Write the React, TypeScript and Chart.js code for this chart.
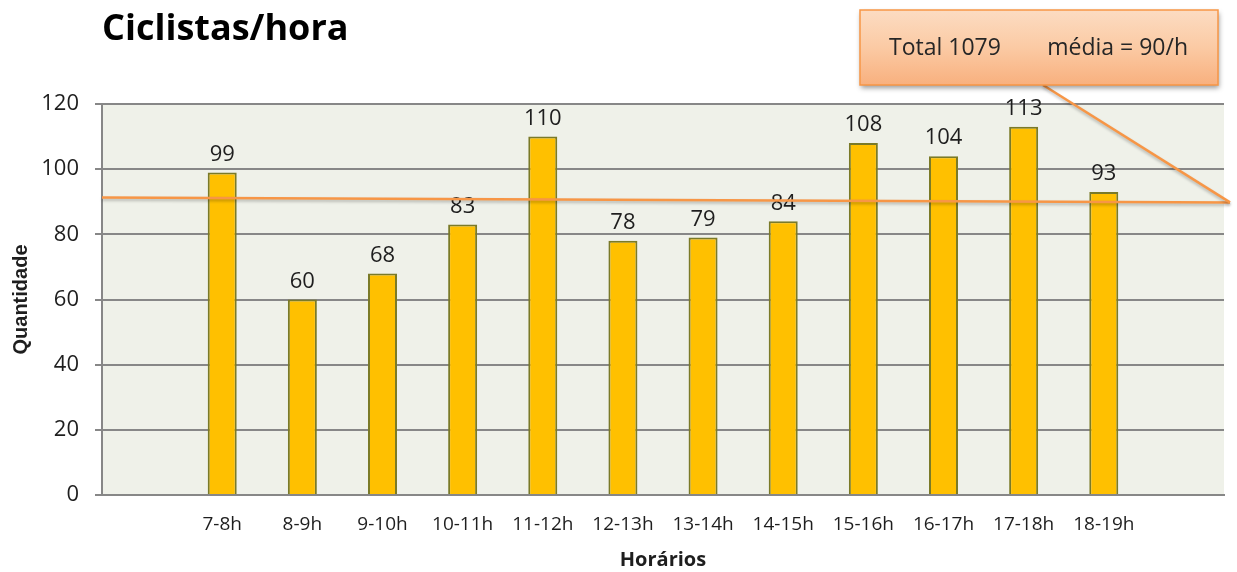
import React, { useEffect, useRef } from 'react';
import { Chart, registerables } from 'chart.js';

Chart.register(...registerables);

// ---- data ----
const hours = ['7-8h', '8-9h', '9-10h', '10-11h', '11-12h', '12-13h', '13-14h', '14-15h', '15-16h', '16-17h', '17-18h', '18-19h'];
const cyclists = [99, 60, 68, 83, 110, 78, 79, 84, 108, 104, 113, 93];
const yMin = 0;
const yMax = 120;
const yStep = 20;
const meanLine = [91.3, 89.8]; // drawn mean line: value at left edge, value at callout tip
const calloutTotal = 'Total 1079';
const calloutMean = 'média = 90/h';
const chartTitle = 'Ciclistas/hora';
const yTitle = 'Quantidade';
const xTitle = 'Horários';

// empty category slot on both sides, as in the reference
const labels = ['', ...hours, ''];
const values: (number | null)[] = [null, ...cyclists, null];

const TEXT = '#1e1e1e';
const GRID = '#878787';
const ORANGE = '#f79646';

const plotBg = {
  id: 'plotBg',
  beforeDraw(chart: any) {
    const { ctx, chartArea: a } = chart;
    ctx.save();
    ctx.fillStyle = '#eff1e9';
    ctx.fillRect(a.left, a.top, a.right - a.left, a.bottom - a.top);
    ctx.restore();
  },
};

const overlay = {
  id: 'overlay',
  afterDatasetsDraw(chart: any) {
    const { ctx, chartArea: a } = chart;
    const y = chart.scales.y;
    const meta = chart.getDatasetMeta(0);

    // value labels
    ctx.save();
    ctx.font = '22px "Open Sans"';
    ctx.fillStyle = TEXT;
    ctx.textAlign = 'center';
    ctx.textBaseline = 'middle';
    meta.data.forEach((bar: any, i: number) => {
      const v = values[i];
      if (v == null) return;
      ctx.fillText(String(v), bar.x, bar.y - 18);
    });
    ctx.restore();

    // mean line and callout
    const tipX = a.right + 6;
    const y0 = y.getPixelForValue(meanLine[0]);
    const y1 = y.getPixelForValue(meanLine[1]);

    ctx.save();
    ctx.strokeStyle = ORANGE;
    ctx.lineWidth = 2.5;
    ctx.shadowColor = 'rgba(0,0,0,0.25)';
    ctx.shadowBlur = 3;
    ctx.shadowOffsetY = 2;
    ctx.beginPath();
    ctx.moveTo(a.left, y0);
    ctx.lineTo(tipX, y1);
    ctx.stroke();

    // callout box
    const bx = 860, by = 10, bw = 358, bh = 75;
    ctx.beginPath();
    ctx.moveTo(1043, by + bh);
    ctx.lineTo(tipX, y1);
    ctx.stroke();

    ctx.shadowColor = 'rgba(0,0,0,0.4)';
    ctx.shadowBlur = 5;
    ctx.shadowOffsetX = 1;
    ctx.shadowOffsetY = 3;
    const g = ctx.createLinearGradient(0, by, 0, by + bh);
    g.addColorStop(0, '#fcdcc2');
    g.addColorStop(0.5, '#fbcaa4');
    g.addColorStop(1, '#f8b07e');
    ctx.fillStyle = g;
    ctx.fillRect(bx, by, bw, bh);
    ctx.shadowColor = 'transparent';
    ctx.lineWidth = 1.5;
    ctx.strokeStyle = ORANGE;
    ctx.strokeRect(bx, by, bw, bh);

    ctx.font = '23px "Open Sans"';
    ctx.fillStyle = '#262626';
    ctx.textBaseline = 'middle';
    ctx.textAlign = 'left';
    ctx.fillText(calloutTotal, 889, 48);
    ctx.textAlign = 'right';
    ctx.fillText(calloutMean, 1188, 48);
    ctx.restore();
  },
};

export default function App() {
  const ref = useRef<HTMLCanvasElement | null>(null);

  useEffect(() => {
    if (!ref.current) return;
    const chart = new Chart(ref.current, {
      type: 'bar',
      data: {
        labels,
        datasets: [
          {
            data: values,
            backgroundColor: '#ffc000',
            borderColor: '#7a7a28',
            borderWidth: 2,
            barPercentage: 0.362,
            categoryPercentage: 1,
          },
        ],
      },
      options: {
        animation: false,
        responsive: false,
        maintainAspectRatio: false,
        layout: { padding: { left: 8, right: 13, top: 0, bottom: 0 } },
        plugins: {
          legend: { display: false },
          tooltip: { enabled: false },
          title: {
            display: true,
            text: chartTitle,
            align: 'start',
            fullSize: false,
            color: '#000',
            font: { family: '"Open Sans"', size: 36, weight: 'bold', lineHeight: 1.2 },
            padding: { top: 8, bottom: 52.8 },
          },
        },
        scales: {
          x: {
            grid: { display: false, drawTicks: false },
            border: { display: true, color: GRID, width: 2 },
            ticks: {
              color: TEXT,
              font: { family: '"Open Sans"', size: 19 },
              padding: 18,
              maxRotation: 0,
              autoSkip: false,
            },
            title: {
              display: true,
              text: xTitle,
              color: TEXT,
              font: { family: '"Open Sans"', size: 20, weight: 'bold' },
              padding: { top: 0, bottom: 0 },
            },
            afterFit(scale: any) {
              scale.height = 77;
            },
          },
          y: {
            min: yMin,
            max: yMax,
            ticks: {
              stepSize: yStep,
              color: TEXT,
              font: { family: '"Open Sans"', size: 22 },
              padding: 16,
            },
            grid: { color: GRID, lineWidth: 2, tickLength: 7, drawTicks: true },
            border: { display: true, color: GRID, width: 2 },
            title: {
              display: true,
              text: yTitle,
              color: TEXT,
              font: { family: '"Liberation Sans"', size: 20, weight: 'bold' },
              padding: { top: 1, bottom: 0 },
            },
            afterFit(scale: any) {
              scale.width = 94;
            },
          },
        },
      },
      plugins: [plotBg, overlay],
    } as any);
    return () => chart.destroy();
  }, []);

  return (
    <div style={{ position: 'fixed', left: 0, top: 0, width: 1237, height: 572, background: '#fff' }}>
      <canvas ref={ref} width={1237} height={572} style={{ display: 'block', width: 1237, height: 572 }} />
    </div>
  );
}
